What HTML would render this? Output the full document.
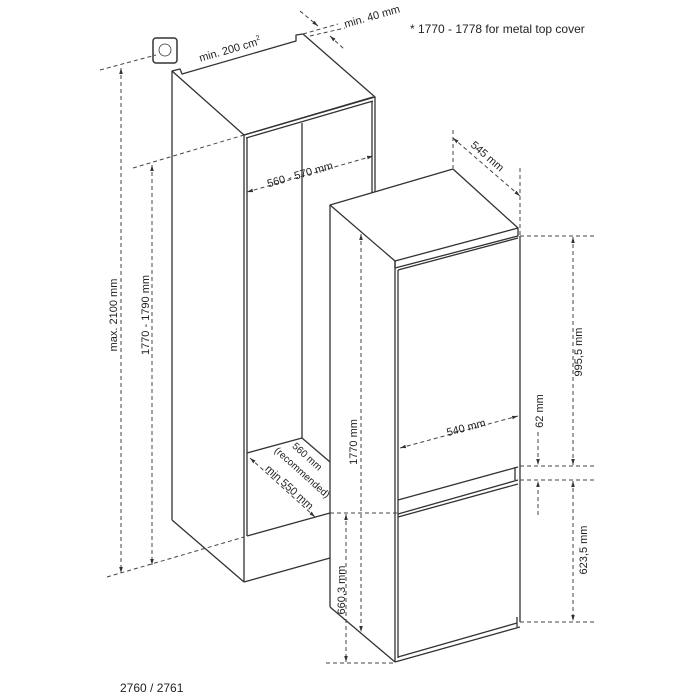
<!DOCTYPE html>
<html><head><meta charset="utf-8"><style>
html,body{margin:0;padding:0;background:#fff;}
svg{display:block;}
text{font-family:"Liberation Sans",sans-serif;fill:#222;}
</style></head><body>
<svg width="700" height="700" viewBox="0 0 700 700" xmlns="http://www.w3.org/2000/svg">
<defs>
<marker id="a" viewBox="0 0 10 10" refX="10" refY="5" markerWidth="6" markerHeight="6" orient="auto-start-reverse"><path d="M0,2 L10,5 L0,8 z" fill="#333"/></marker>
</defs>
<g fill="none" stroke="#333" stroke-width="1.3" stroke-linejoin="round">
<!-- cabinet -->
<polygon points="172,71 180,69 182,74 296,41 296,35 303,34 375,97 244,135" fill="#fff"/>
<line x1="244" y1="135" x2="373" y2="97"/>
<line x1="246" y1="138" x2="373" y2="101"/>
<line x1="172" y1="71" x2="172" y2="520"/>
<line x1="172" y1="520" x2="244" y2="582"/>
<line x1="244" y1="135" x2="244" y2="582"/>
<line x1="247" y1="138" x2="247" y2="536"/>
<line x1="302" y1="123" x2="302" y2="438"/>
<line x1="375" y1="97" x2="375" y2="200"/>
<line x1="372" y1="101" x2="372" y2="200"/>
<line x1="247" y1="453" x2="302" y2="438"/>
<line x1="302" y1="438" x2="330" y2="462"/>
<line x1="247" y1="536" x2="330" y2="513"/>
<line x1="244" y1="582" x2="330" y2="558"/>
<!-- fridge -->
<polygon points="330,205 453,169 518,228 518,236 395,268 395,261" fill="#fff"/>
<line x1="395" y1="261" x2="518" y2="228"/>
<line x1="330" y1="205" x2="330" y2="607"/>
<line x1="330" y1="607" x2="395" y2="662"/>
<line x1="395" y1="261" x2="395" y2="662"/>
<line x1="398" y1="270" x2="398" y2="658"/>
<line x1="520" y1="236" x2="520" y2="622"/>
<line x1="398" y1="270" x2="518" y2="238"/>
<line x1="398" y1="500" x2="518" y2="467"/>
<line x1="515" y1="467" x2="515" y2="480"/>
<line x1="398" y1="514" x2="518" y2="480"/>
<line x1="398" y1="517" x2="518" y2="484"/>
<line x1="398" y1="657" x2="517" y2="623"/>
<line x1="395" y1="662" x2="520" y2="627"/>
<line x1="517" y1="617" x2="517" y2="627"/>
<!-- socket -->
<rect x="153" y="38" width="24" height="25" rx="3" stroke-width="1.5"/>
<circle cx="165" cy="50" r="6" stroke-width="0.8"/>
</g>
<g fill="none" stroke="#444" stroke-width="1" stroke-dasharray="4,3">
<!-- left dims -->
<line x1="100" y1="70" x2="156" y2="55"/>
<line x1="133" y1="168" x2="244" y2="135"/>
<line x1="107" y1="577" x2="244" y2="537"/>
<line x1="121" y1="68" x2="121" y2="573" marker-start="url(#a)" marker-end="url(#a)"/>
<line x1="152" y1="165" x2="152" y2="565" marker-start="url(#a)" marker-end="url(#a)"/>
<line x1="247" y1="192" x2="373" y2="156" marker-start="url(#a)" marker-end="url(#a)"/>
<!-- min 40 -->
<line x1="300" y1="11" x2="318" y2="26" marker-end="url(#a)"/>
<line x1="303" y1="34" x2="338" y2="24"/>
<line x1="310" y1="36" x2="345" y2="28"/>
<line x1="330" y1="36" x2="345" y2="50" marker-start="url(#a)"/>
<!-- 545 -->
<line x1="453" y1="130" x2="453" y2="168"/>
<line x1="520" y1="168" x2="520" y2="236"/>
<line x1="453" y1="138" x2="520" y2="196" marker-start="url(#a)" marker-end="url(#a)"/>
<!-- right dims -->
<line x1="520" y1="236" x2="595" y2="236"/>
<line x1="520" y1="466" x2="595" y2="466"/>
<line x1="520" y1="480" x2="595" y2="480"/>
<line x1="520" y1="622" x2="595" y2="622"/>
<line x1="573" y1="237" x2="573" y2="465" marker-start="url(#a)" marker-end="url(#a)"/>
<line x1="573" y1="481" x2="573" y2="621" marker-start="url(#a)" marker-end="url(#a)"/>
<line x1="538" y1="432" x2="538" y2="465" marker-end="url(#a)"/>
<line x1="538" y1="515" x2="538" y2="481" marker-end="url(#a)"/>
<line x1="400" y1="448" x2="518" y2="416" marker-start="url(#a)" marker-end="url(#a)"/>
<!-- fridge left dims -->
<line x1="361" y1="234" x2="361" y2="632" marker-start="url(#a)" marker-end="url(#a)"/>
<line x1="330" y1="513" x2="398" y2="513"/>
<line x1="326" y1="663" x2="395" y2="663"/>
<line x1="346" y1="514" x2="346" y2="662" marker-start="url(#a)" marker-end="url(#a)"/>
<line x1="250" y1="458" x2="315" y2="517" marker-start="url(#a)" marker-end="url(#a)"/>
</g>
<g font-size="11">
<text x="0" y="0" transform="translate(231,53) rotate(-16)" text-anchor="middle">min. 200 cm<tspan font-size="7" dy="-5">2</tspan></text>
<text transform="translate(373,20) rotate(-16)" text-anchor="middle">min. 40 mm</text>
<text x="410" y="33" font-size="12">*  1770 - 1778 for metal top cover</text>
<text transform="translate(301,178) rotate(-16)" text-anchor="middle">560 - 570 mm</text>
<text transform="translate(117,315) rotate(-90)" text-anchor="middle">max. 2100 mm</text>
<text transform="translate(149,315) rotate(-90)" text-anchor="middle">1770 - 1790 mm</text>
<text transform="translate(485,159) rotate(41)" text-anchor="middle">545 mm</text>
<text transform="translate(582,352) rotate(-90)" text-anchor="middle">995,5 mm</text>
<text transform="translate(587,550) rotate(-90)" text-anchor="middle">623,5 mm</text>
<text transform="translate(543,411) rotate(-90)" text-anchor="middle">62 mm</text>
<text transform="translate(467,431) rotate(-15)" text-anchor="middle">540 mm</text>
<text transform="translate(357,442) rotate(-90)" text-anchor="middle">1770 mm</text>
<text transform="translate(345,590) rotate(-90)" text-anchor="middle">660,3 mm</text>
<text transform="translate(305,459) rotate(42)" text-anchor="middle" font-size="10">560 mm</text>
<text transform="translate(300,475) rotate(42)" text-anchor="middle" font-size="10">(recommended)</text>
<text transform="translate(287,490) rotate(42)" text-anchor="middle">min 550 mm</text>
<text x="120" y="692" font-size="12">2760 / 2761</text>
</g>
</svg>
</body></html>
